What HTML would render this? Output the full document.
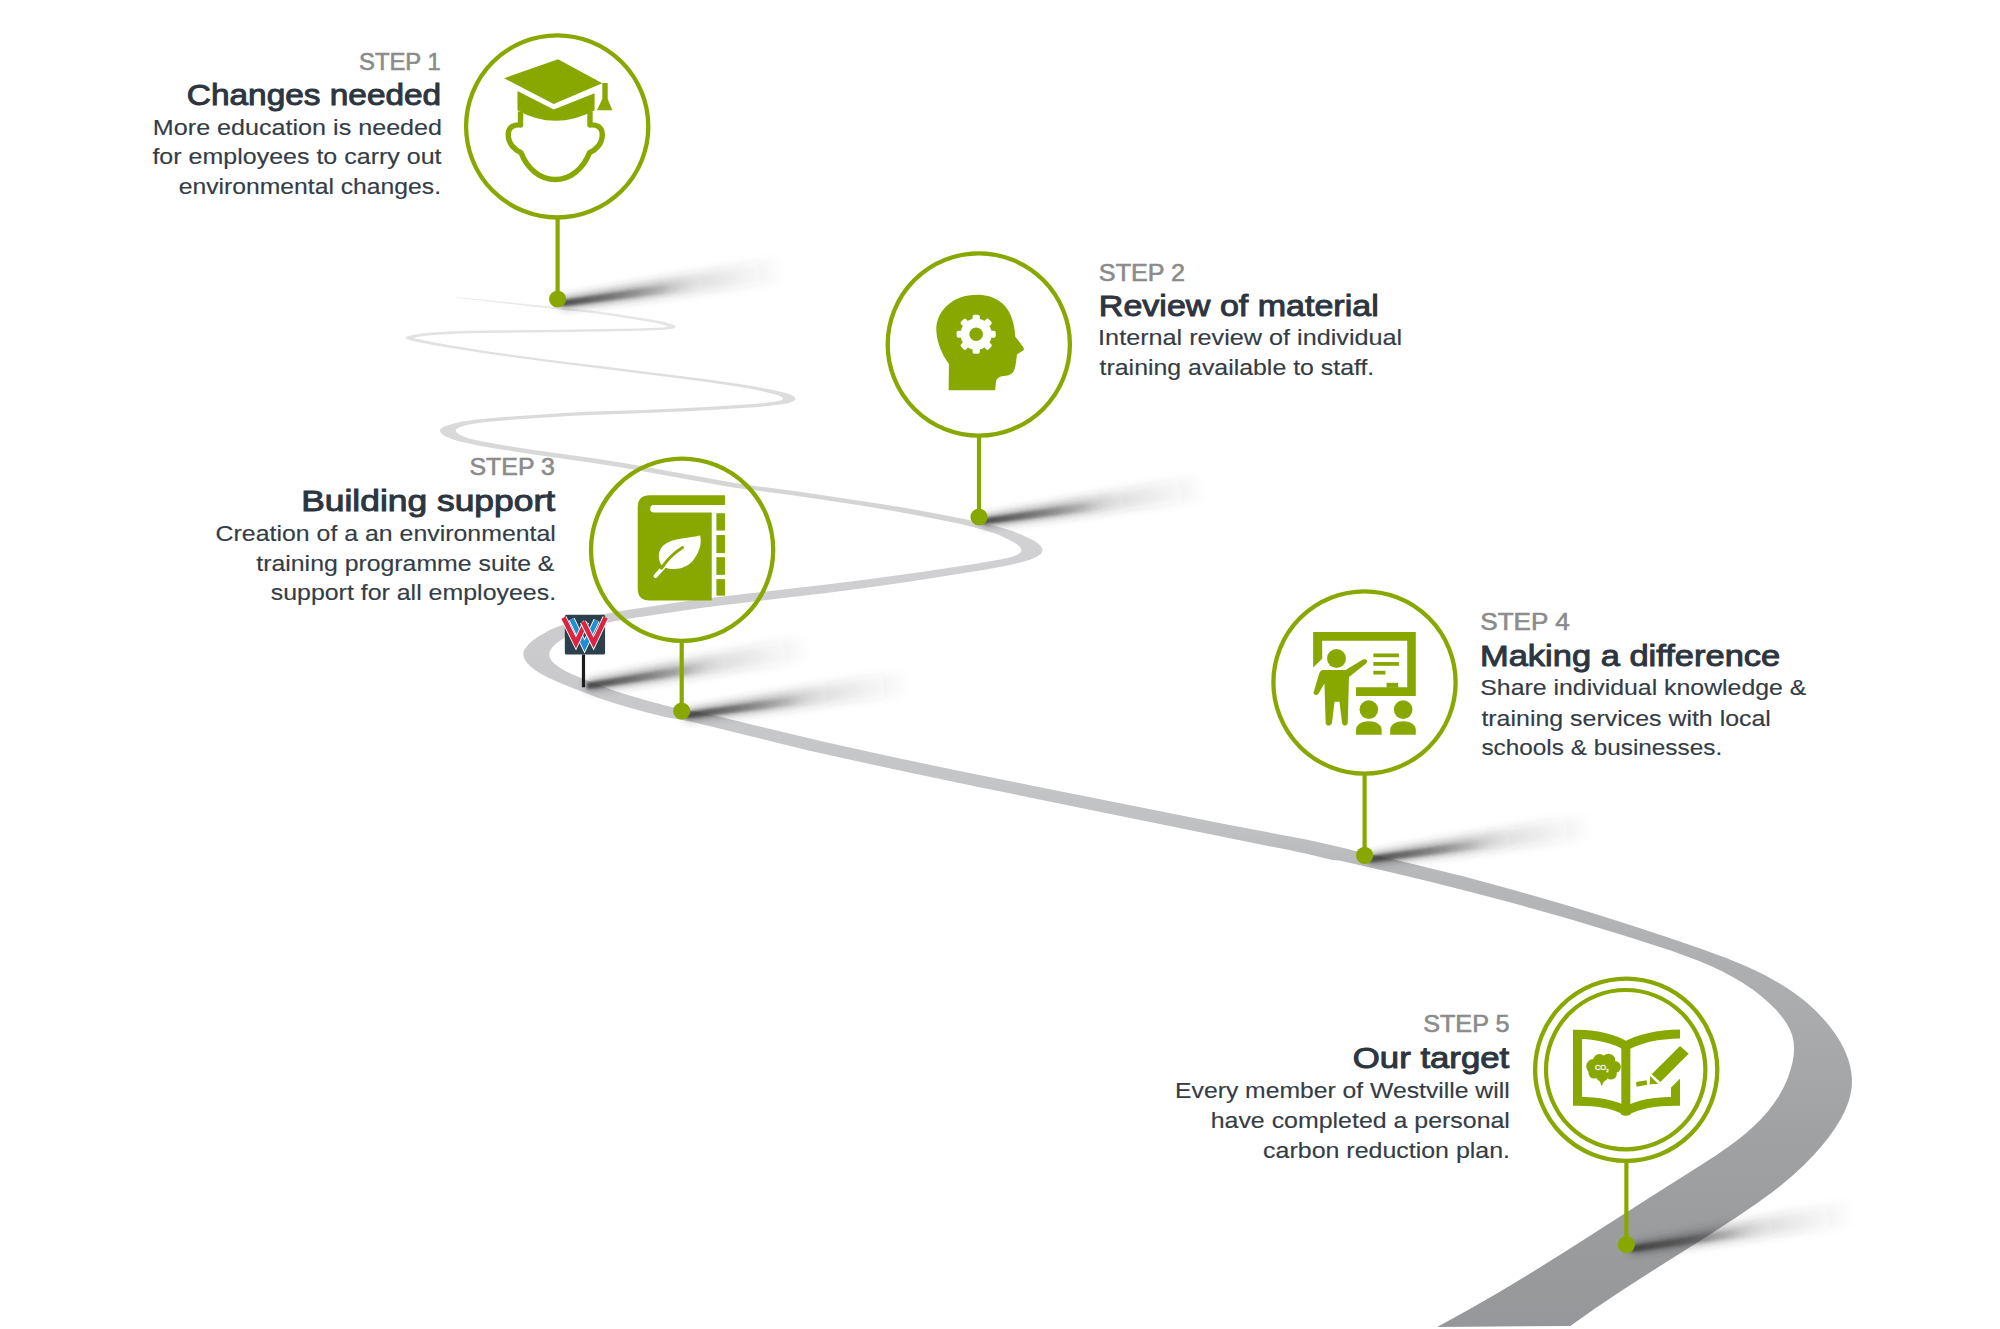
<!DOCTYPE html>
<html><head><meta charset="utf-8"><style>
html,body{margin:0;padding:0;background:#fff;}
body{width:2000px;height:1329px;overflow:hidden;}
svg{display:block;font-family:"Liberation Sans",sans-serif;}
</style></head><body>
<svg width="2000" height="1329" viewBox="0 0 2000 1329">
<defs>
<linearGradient id="roadg" gradientUnits="userSpaceOnUse" x1="0" y1="297" x2="0" y2="1327">
<stop offset="0.0000" stop-color="#ebebeb"/>
<stop offset="0.0320" stop-color="#e3e3e3"/>
<stop offset="0.1194" stop-color="#dadada"/>
<stop offset="0.2456" stop-color="#d1d1d3"/>
<stop offset="0.3427" stop-color="#cbcbcd"/>
<stop offset="0.4689" stop-color="#c4c5c7"/>
<stop offset="0.5175" stop-color="#bfc0c2"/>
<stop offset="0.5612" stop-color="#b7b8ba"/>
<stop offset="0.6437" stop-color="#aeafb1"/>
<stop offset="0.7505" stop-color="#a6a7a9"/>
<stop offset="0.8184" stop-color="#a0a1a3"/>
<stop offset="0.9641" stop-color="#98999b"/>
<stop offset="1.0000" stop-color="#96979a"/>
</linearGradient>
<filter id="blur1" x="-20%" y="-80%" width="140%" height="260%"><feGaussianBlur stdDeviation="1.6"/></filter><filter id="blur2" x="-20%" y="-80%" width="140%" height="260%"><feGaussianBlur stdDeviation="4.5"/></filter>
</defs>
<rect width="2000" height="1329" fill="#fff"/>
<path d="M432.5,332.4 420.7,333.6 412.3,334.9 407.0,336.4 406.0,337.2 405.9,337.9 406.5,338.7 407.9,339.6 412.4,341.0 438.5,345.9 482.9,353.1 545.1,361.5 702.0,381.3 738.9,386.8 756.7,390.1 772.0,393.5 776.4,394.8 779.9,396.1 782.2,397.4 783.1,398.5 782.9,399.1 782.1,399.8 780.4,400.6 778.5,401.1 761.3,403.3 753.6,404.0 706.3,406.9 676.2,408.5 642.5,409.9 586.3,411.8 564.0,412.9 511.4,416.4 489.4,418.2 477.1,419.4 463.9,421.3 454.6,423.2 445.6,426.0 442.7,427.3 441.0,428.6 440.2,429.6 440.0,431.0 440.4,432.1 441.3,433.3 443.1,434.9 445.2,436.2 451.0,438.8 457.9,441.0 464.4,442.6 480.7,445.9 495.3,448.5 530.4,454.1 588.2,462.3 620.4,467.2 724.2,486.0 740.2,488.4 789.1,494.8 861.2,505.6 887.9,509.9 919.2,515.7 945.9,521.0 962.9,524.6 977.5,528.2 990.5,531.9 995.7,533.7 1000.7,535.8 1014.3,542.5 1016.2,543.7 1018.9,545.8 1020.7,547.9 1021.4,549.2 1021.4,550.5 1021.3,551.2 1020.0,553.0 1017.5,554.6 1012.8,556.4 1007.6,557.9 1000.3,559.5 974.3,564.0 921.5,571.9 864.7,579.7 828.3,584.2 707.3,598.3 690.3,600.5 619.2,611.3 597.8,615.3 581.6,619.2 569.3,622.8 559.7,626.0 552.5,628.8 546.2,631.9 538.9,636.2 532.4,640.8 528.1,644.8 524.8,649.0 523.8,650.9 523.4,652.4 523.4,655.5 524.5,659.0 527.1,663.0 530.8,666.8 535.2,670.2 539.9,673.3 546.9,677.1 555.5,681.1 567.4,686.1 598.5,697.9 613.1,702.7 628.8,707.4 645.1,712.0 660.0,715.8 669.0,717.8 683.8,720.2 693.8,722.2 808.5,750.4 851.6,760.1 904.5,771.6 976.0,786.5 1199.1,832.1 1287.9,849.8 1306.4,853.8 1332.5,859.9 1335.4,860.3 1339.3,860.6 1386.4,871.3 1429.2,881.6 1471.7,892.3 1510.8,902.6 1566.1,918.1 1621.5,934.8 1670.7,950.6 1687.0,956.4 1699.8,961.3 1712.4,966.7 1721.6,971.1 1733.6,977.4 1742.2,982.6 1753.4,990.1 1761.4,996.3 1769.0,1002.9 1776.2,1010.1 1782.8,1017.9 1786.7,1023.4 1789.8,1029.2 1792.2,1035.3 1793.6,1041.7 1794.1,1048.3 1793.7,1055.1 1792.6,1061.9 1790.9,1068.6 1787.7,1078.2 1783.7,1087.3 1778.9,1096.0 1773.5,1104.1 1767.4,1111.9 1760.8,1119.2 1753.7,1126.3 1746.2,1133.0 1735.6,1141.5 1727.3,1147.6 1715.8,1155.5 1701.1,1165.0 1651.3,1196.4 1566.5,1250.8 1529.6,1273.8 1497.7,1293.0 1468.0,1310.1 1437.2,1327.0 1570.3,1326.0 1595.0,1308.5 1623.0,1289.7 1648.7,1273.2 1708.8,1235.2 1737.2,1216.8 1756.6,1203.6 1772.9,1191.7 1783.5,1183.3 1793.8,1174.5 1803.8,1165.2 1813.5,1155.3 1822.7,1144.8 1829.3,1136.4 1835.4,1127.8 1840.9,1118.8 1844.0,1112.8 1846.7,1106.6 1848.9,1100.4 1850.5,1094.2 1851.6,1087.9 1851.9,1084.7 1851.9,1078.4 1851.3,1072.1 1850.1,1065.9 1848.3,1059.6 1846.0,1053.5 1843.3,1047.5 1840.1,1041.6 1836.5,1035.8 1832.7,1030.2 1828.5,1024.7 1819.4,1014.5 1814.6,1009.7 1807.2,1003.0 1802.0,998.7 1793.9,992.7 1788.4,988.9 1779.8,983.5 1765.1,975.3 1756.0,970.8 1746.6,966.5 1727.6,958.6 1701.7,949.1 1665.9,936.8 1630.2,925.1 1594.7,913.8 1562.4,904.0 1526.9,893.7 1494.5,884.7 1462.0,876.1 1429.4,867.9 1393.2,859.3 1351.1,849.9 1348.9,849.2 1330.7,845.0 1307.5,839.8 1227.0,824.4 1035.0,786.2 953.4,769.7 899.8,758.5 856.5,749.1 823.8,741.8 711.7,714.8 698.3,711.9 680.9,709.0 674.3,707.7 662.5,704.8 645.1,700.0 626.4,694.5 614.4,690.7 583.5,679.1 570.4,673.5 563.1,669.8 558.1,666.6 554.2,663.6 551.8,661.0 550.2,658.4 549.3,655.5 549.3,653.1 550.2,650.5 552.6,647.1 555.4,644.2 559.5,640.9 564.6,637.7 570.6,634.5 575.8,632.2 581.7,630.1 592.6,626.6 601.4,624.2 614.0,621.3 633.3,617.9 697.1,608.6 714.2,606.3 830.5,592.4 864.9,588.0 910.5,581.4 986.2,569.5 1003.8,566.2 1014.7,563.9 1023.3,561.8 1030.7,559.4 1036.0,557.1 1037.9,556.1 1040.0,554.6 1041.2,553.4 1042.1,551.7 1042.5,550.0 1042.2,548.8 1041.3,546.9 1039.3,544.6 1037.0,542.8 1033.7,540.6 1020.6,534.2 1011.6,530.8 999.0,527.0 985.0,523.5 964.2,519.1 938.4,514.0 907.4,508.2 879.4,503.7 801.3,492.0 750.7,485.4 736.1,483.2 629.6,464.0 595.1,458.5 537.4,450.6 501.9,445.0 475.5,440.0 470.1,438.7 465.7,437.3 460.3,435.1 457.2,433.1 456.3,432.1 455.8,431.2 455.9,430.1 456.3,429.2 457.5,428.4 459.6,427.3 466.6,425.1 475.0,423.5 485.8,422.0 518.0,419.2 569.1,415.9 591.5,414.9 643.7,413.1 681.2,411.5 711.1,409.9 759.2,406.9 780.5,404.5 787.4,403.3 791.0,402.2 793.6,401.0 795.1,399.7 795.5,398.4 794.6,396.9 792.4,395.5 789.1,394.1 784.1,392.6 769.2,389.2 746.0,385.0 708.0,379.5 602.4,366.2 550.4,359.9 492.0,352.0 476.1,349.6 441.2,343.8 417.7,339.1 415.2,338.4 413.9,337.7 420.1,336.5 430.2,335.2 459.3,333.5 486.7,332.9 573.4,331.9 640.4,330.7 665.8,329.7 672.3,328.8 674.0,328.2 675.1,327.5 675.5,326.6 675.1,325.8 670.6,323.7 664.4,322.0 652.2,319.7 616.9,314.1 597.9,311.4 500.8,301.4 456.9,297.1 456.1,297.2 455.8,297.4 456.5,297.7 524.7,305.8 549.0,308.5 584.3,312.1 599.9,314.0 620.9,317.2 653.8,322.6 662.2,324.5 665.1,325.5 667.5,326.7 666.4,327.0 662.4,327.5 635.9,328.4 558.2,329.8 469.9,330.8 451.9,331.3Z" fill="url(#roadg)"/>
<linearGradient id="sa0" gradientUnits="userSpaceOnUse" x1="561.0" y1="303.5" x2="784.1" y2="274.5"><stop offset="0" stop-color="#3a3a3a" stop-opacity="0.62"/><stop offset="0.3" stop-color="#3a3a3a" stop-opacity="0.42"/><stop offset="0.62" stop-color="#3a3a3a" stop-opacity="0.15"/><stop offset="1" stop-color="#3a3a3a" stop-opacity="0"/></linearGradient><polygon points="561.6,308.0 560.4,299.0 781.8,256.5 785.1,282.3" fill="url(#sa0)" filter="url(#blur2)"/>
<linearGradient id="sb0" gradientUnits="userSpaceOnUse" x1="561.0" y1="303.5" x2="680.1" y2="289.1"><stop offset="0" stop-color="#3a3a3a" stop-opacity="0.85"/><stop offset="0.4" stop-color="#3a3a3a" stop-opacity="0.5"/><stop offset="1" stop-color="#3a3a3a" stop-opacity="0"/></linearGradient><polygon points="561.4,306.5 560.6,300.5 679.4,282.8 680.5,291.8" fill="url(#sb0)" filter="url(#blur1)"/>
<linearGradient id="sa1" gradientUnits="userSpaceOnUse" x1="982.5" y1="521.5" x2="1205.6" y2="492.5"><stop offset="0" stop-color="#3a3a3a" stop-opacity="0.62"/><stop offset="0.3" stop-color="#3a3a3a" stop-opacity="0.42"/><stop offset="0.62" stop-color="#3a3a3a" stop-opacity="0.15"/><stop offset="1" stop-color="#3a3a3a" stop-opacity="0"/></linearGradient><polygon points="983.1,526.0 981.9,517.0 1203.3,474.5 1206.6,500.3" fill="url(#sa1)" filter="url(#blur2)"/>
<linearGradient id="sb1" gradientUnits="userSpaceOnUse" x1="982.5" y1="521.5" x2="1101.6" y2="507.1"><stop offset="0" stop-color="#3a3a3a" stop-opacity="0.85"/><stop offset="0.4" stop-color="#3a3a3a" stop-opacity="0.5"/><stop offset="1" stop-color="#3a3a3a" stop-opacity="0"/></linearGradient><polygon points="982.9,524.5 982.1,518.5 1100.9,500.8 1102.0,509.8" fill="url(#sb1)" filter="url(#blur1)"/>
<linearGradient id="sa2" gradientUnits="userSpaceOnUse" x1="587.0" y1="686.0" x2="809.5" y2="652.7"><stop offset="0" stop-color="#3a3a3a" stop-opacity="0.62"/><stop offset="0.3" stop-color="#3a3a3a" stop-opacity="0.42"/><stop offset="0.62" stop-color="#3a3a3a" stop-opacity="0.15"/><stop offset="1" stop-color="#3a3a3a" stop-opacity="0"/></linearGradient><polygon points="587.7,690.5 586.3,681.5 806.8,634.7 810.7,660.5" fill="url(#sa2)" filter="url(#blur2)"/>
<linearGradient id="sb2" gradientUnits="userSpaceOnUse" x1="587.0" y1="686.0" x2="705.8" y2="669.3"><stop offset="0" stop-color="#3a3a3a" stop-opacity="0.85"/><stop offset="0.4" stop-color="#3a3a3a" stop-opacity="0.5"/><stop offset="1" stop-color="#3a3a3a" stop-opacity="0"/></linearGradient><polygon points="587.4,689.0 586.6,683.0 705.0,663.1 706.2,672.0" fill="url(#sb2)" filter="url(#blur1)"/>
<linearGradient id="sa3" gradientUnits="userSpaceOnUse" x1="685.5" y1="715.5" x2="908.7" y2="687.3"><stop offset="0" stop-color="#3a3a3a" stop-opacity="0.62"/><stop offset="0.3" stop-color="#3a3a3a" stop-opacity="0.42"/><stop offset="0.62" stop-color="#3a3a3a" stop-opacity="0.15"/><stop offset="1" stop-color="#3a3a3a" stop-opacity="0"/></linearGradient><polygon points="686.1,720.0 684.9,711.0 906.4,669.2 909.7,695.0" fill="url(#sa3)" filter="url(#blur2)"/>
<linearGradient id="sb3" gradientUnits="userSpaceOnUse" x1="685.5" y1="715.5" x2="804.7" y2="701.5"><stop offset="0" stop-color="#3a3a3a" stop-opacity="0.85"/><stop offset="0.4" stop-color="#3a3a3a" stop-opacity="0.5"/><stop offset="1" stop-color="#3a3a3a" stop-opacity="0"/></linearGradient><polygon points="685.9,718.5 685.1,712.5 803.9,695.2 805.0,704.2" fill="url(#sb3)" filter="url(#blur1)"/>
<linearGradient id="sa4" gradientUnits="userSpaceOnUse" x1="1368.5" y1="859.5" x2="1591.7" y2="830.9"><stop offset="0" stop-color="#3a3a3a" stop-opacity="0.62"/><stop offset="0.3" stop-color="#3a3a3a" stop-opacity="0.42"/><stop offset="0.62" stop-color="#3a3a3a" stop-opacity="0.15"/><stop offset="1" stop-color="#3a3a3a" stop-opacity="0"/></linearGradient><polygon points="1369.1,864.0 1367.9,855.0 1589.4,812.9 1592.7,838.6" fill="url(#sa4)" filter="url(#blur2)"/>
<linearGradient id="sb4" gradientUnits="userSpaceOnUse" x1="1368.5" y1="859.5" x2="1487.7" y2="845.3"><stop offset="0" stop-color="#3a3a3a" stop-opacity="0.85"/><stop offset="0.4" stop-color="#3a3a3a" stop-opacity="0.5"/><stop offset="1" stop-color="#3a3a3a" stop-opacity="0"/></linearGradient><polygon points="1368.9,862.5 1368.1,856.5 1486.9,839.0 1488.0,848.0" fill="url(#sb4)" filter="url(#blur1)"/>
<linearGradient id="sa5" gradientUnits="userSpaceOnUse" x1="1630.5" y1="1249.0" x2="1853.3" y2="1217.7"><stop offset="0" stop-color="#3a3a3a" stop-opacity="0.62"/><stop offset="0.3" stop-color="#3a3a3a" stop-opacity="0.42"/><stop offset="0.62" stop-color="#3a3a3a" stop-opacity="0.15"/><stop offset="1" stop-color="#3a3a3a" stop-opacity="0"/></linearGradient><polygon points="1631.1,1253.5 1629.9,1244.5 1850.8,1199.7 1854.4,1225.4" fill="url(#sa5)" filter="url(#blur2)"/>
<linearGradient id="sb5" gradientUnits="userSpaceOnUse" x1="1630.5" y1="1249.0" x2="1749.5" y2="1233.3"><stop offset="0" stop-color="#3a3a3a" stop-opacity="0.85"/><stop offset="0.4" stop-color="#3a3a3a" stop-opacity="0.5"/><stop offset="1" stop-color="#3a3a3a" stop-opacity="0"/></linearGradient><polygon points="1630.9,1252.0 1630.1,1246.0 1748.7,1227.1 1749.8,1236.0" fill="url(#sb5)" filter="url(#blur1)"/>
<g transform="translate(540,600) scale(0.07524)">
<rect x="330" y="195" width="535" height="530" rx="22" fill="#2b3f4d"/>
<rect x="557" y="725" width="42" height="435" fill="#1c1c1c"/>
<g fill="none" stroke-linejoin="miter" stroke-miterlimit="3" transform="translate(0,-28)">
<path d="M420,282 L592,640 L752,300" stroke="#fff" stroke-width="86"/>
<path d="M420,282 L592,640 L752,300" stroke="#1d8fd2" stroke-width="62"/>
<path d="M312,262 L478,600 L612,318" stroke="#fff" stroke-width="86"/>
<path d="M312,262 L478,600 L612,318" stroke="#da2441" stroke-width="62"/>
<path d="M572,318 L712,600 L873,262" stroke="#fff" stroke-width="86"/>
<path d="M572,318 L712,600 L873,262" stroke="#da2441" stroke-width="62"/>
</g>
</g>
<line x1="557.6" y1="217.4" x2="557.6" y2="299.0" stroke="#88a800" stroke-width="4.2"/>
<circle cx="557.6" cy="299.0" r="8.6" fill="#88a800"/>
<line x1="979.0" y1="435.5" x2="979.0" y2="517.0" stroke="#88a800" stroke-width="4.2"/>
<circle cx="979.0" cy="517.0" r="8.6" fill="#88a800"/>
<line x1="681.7" y1="640.8" x2="681.7" y2="711.0" stroke="#88a800" stroke-width="4.2"/>
<circle cx="681.7" cy="711.0" r="8.6" fill="#88a800"/>
<line x1="1364.6" y1="773.5" x2="1364.6" y2="855.3" stroke="#88a800" stroke-width="4.2"/>
<circle cx="1364.6" cy="855.3" r="8.6" fill="#88a800"/>
<line x1="1626.4" y1="1160.7" x2="1626.4" y2="1244.6" stroke="#88a800" stroke-width="4.2"/>
<circle cx="1626.4" cy="1244.6" r="8.6" fill="#88a800"/>
<circle cx="557.2" cy="126.4" r="91.1" fill="none" stroke="#88a800" stroke-width="4.3"/>
<circle cx="978.8" cy="344.5" r="91.1" fill="none" stroke="#88a800" stroke-width="4.3"/>
<circle cx="682.1" cy="549.8" r="91.1" fill="none" stroke="#88a800" stroke-width="4.3"/>
<circle cx="1364.5" cy="682.5" r="91.1" fill="none" stroke="#88a800" stroke-width="4.3"/>
<circle cx="1626.2" cy="1069.7" r="91.1" fill="none" stroke="#88a800" stroke-width="4.3"/>
<circle cx="1625.7" cy="1069.7" r="79.7" fill="none" stroke="#88a800" stroke-width="4.2"/>
<g transform="translate(455,25) scale(0.154251)" fill="#88a800">
<path d="M318,345 L668,222 L955,378 L640,512 Z"/>
<path d="M405,428 L640,548 L905,443 L905,552 Q650,690 405,552 Z"/>
<path d="M955,376 L990,376 L990,480 L1020,553 L920,553 L955,480 Z"/>
<path d="M425,560 L425,648 C390,645 345,655 345,712 C345,772 390,812 428,828 C470,935 555,1002 650,1002 C745,1002 830,935 872,828 C910,812 955,772 955,712 C955,655 910,645 875,648 L875,560" fill="none" stroke="#88a800" stroke-width="35" stroke-linejoin="round"/>
</g>
<g transform="translate(880,245) scale(0.150489)">
<path fill="#88a800" d="M456,966 L458,790 C420,740 378,660 374,565 C372,440 480,330 647,330 C760,330 840,390 870,470 C890,520 895,560 899,609 L948,672 C962,690 957,702 940,707 L910,728 C906,760 905,795 892,830 C882,856 860,866 822,870 C792,873 776,886 771,905 L765,966 Z"/>
<g fill="#fff" transform="translate(639,593)"><circle r="104"/><rect x="-24" y="-130" width="48" height="50" rx="12" transform="rotate(0)"/><rect x="-24" y="-130" width="48" height="50" rx="12" transform="rotate(45)"/><rect x="-24" y="-130" width="48" height="50" rx="12" transform="rotate(90)"/><rect x="-24" y="-130" width="48" height="50" rx="12" transform="rotate(135)"/><rect x="-24" y="-130" width="48" height="50" rx="12" transform="rotate(180)"/><rect x="-24" y="-130" width="48" height="50" rx="12" transform="rotate(225)"/><rect x="-24" y="-130" width="48" height="50" rx="12" transform="rotate(270)"/><rect x="-24" y="-130" width="48" height="50" rx="12" transform="rotate(315)"/></g>
<circle cx="639" cy="593" r="45" fill="#88a800"/>
</g>
<g transform="translate(582,450) scale(0.150489)" fill="#88a800">
<path d="M450,300 L950,300 L950,365 L478,365 A25,25 0 0 0 478,415 L862,415 L862,1000 L450,1000 Q370,1000 370,920 L370,380 Q370,300 450,300 Z"/>
<rect x="893" y="420" width="57" height="115"/>
<rect x="893" y="565" width="57" height="120"/>
<rect x="893" y="712" width="57" height="118"/>
<rect x="893" y="858" width="57" height="110"/>
<path fill="#fff" d="M785,568 C700,590 600,580 540,635 C500,672 505,730 528,765 L552,780 C610,805 700,790 745,725 C790,660 795,610 785,568 Z"/>
<path d="M488,838 L548,772" fill="none" stroke="#fff" stroke-width="26" stroke-linecap="round"/>
<path d="M528,785 Q585,700 668,648" fill="none" stroke="#88a800" stroke-width="20" stroke-linecap="round"/>
</g>
<g transform="translate(1265,585) scale(0.150489)" fill="#88a800">
<path d="M320,313 L1002,313 L1002,737 L605,737 L605,680 L945,680 L945,370 L380,370 L380,490 L320,548 Z"/>
<rect x="808" y="650" width="77" height="32"/>
<rect x="720" y="455" width="170" height="25"/>
<rect x="720" y="512" width="170" height="25"/>
<rect x="720" y="570" width="80" height="25"/>
<circle cx="475" cy="488" r="63"/>
<path d="M385,565 L535,565 L648,497 C668,486 690,505 672,522 L558,612 L550,915 C548,940 515,940 512,915 L495,775 L462,775 L445,915 C440,940 405,940 403,915 L395,655 L355,722 C343,740 315,728 325,708 L358,595 C364,575 372,565 385,565 Z"/>
<circle cx="690" cy="828" r="62"/>
<circle cx="918" cy="828" r="62"/>
<path d="M605,995 L605,962 C605,925 645,905 690,905 C735,905 775,925 775,962 L775,995 Z"/>
<path d="M832,995 L832,962 C832,925 872,905 918,905 C963,905 1002,925 1002,962 L1002,995 Z"/>
</g>
<g transform="translate(1525,970) scale(0.150489)">
<g fill="none" stroke="#88a800" stroke-width="60" stroke-linejoin="miter">
<path d="M672,938 C590,888 470,872 349,872 L349,427 C470,430 590,455 672,505"/>
<path d="M668,505 C760,455 890,427 1030,425"/>
<path d="M1000,722 L1000,872 C890,872 760,888 668,938"/>
<path d="M670,490 L670,962"/>
</g>
<path fill="#88a800" d="M640,930 Q670,952 700,930 L700,960 Q670,978 640,960 Z"/>
<path fill="#fff" d="M966,718 L1034,718 L966,786 Z"/>
<g fill="#88a800">
<circle cx="455" cy="640" r="48"/><circle cx="495" cy="600" r="42"/><circle cx="555" cy="600" r="44"/><circle cx="597" cy="645" r="40"/>
<circle cx="572" cy="690" r="38"/><circle cx="512" cy="700" r="42"/><circle cx="458" cy="685" r="36"/><circle cx="525" cy="648" r="62"/>
<path d="M488,715 L535,715 L510,772 Z"/>
</g>
<text x="510" y="667" font-size="50" fill="#fff" stroke="#fff" stroke-width="2" text-anchor="middle" font-family="Liberation Sans">CO<tspan font-size="28" dy="10">2</tspan></text>
<path fill="#88a800" d="M1030,505 L1088,557 L900,745 L842,693 Z"/>
<path fill="#88a800" d="M832,705 L885,757 L828,760 Z"/>
<path fill="#88a800" d="M738,745 L808,733 L812,762 L742,775 Z"/>
</g>
<text transform="translate(359.01,69.80) scale(0.9932,1)" font-size="24" fill="#8b8b8b" stroke="#8b8b8b" stroke-width="0.6">STEP 1</text>
<text transform="translate(186.85,104.80) scale(1.1518,1)" font-size="29" fill="#2d3540" stroke="#2d3540" stroke-width="0.95">Changes needed</text>
<text transform="translate(152.86,134.60) scale(1.1429,1)" font-size="22" fill="#343c46" stroke="#343c46" stroke-width="0.15">More education is needed</text>
<text transform="translate(152.40,164.30) scale(1.1372,1)" font-size="22" fill="#343c46" stroke="#343c46" stroke-width="0.15">for employees to carry out</text>
<text transform="translate(178.80,194.30) scale(1.1236,1)" font-size="22" fill="#343c46" stroke="#343c46" stroke-width="0.15">environmental changes.</text>
<text transform="translate(1098.85,280.60) scale(1.0485,1)" font-size="24" fill="#8b8b8b" stroke="#8b8b8b" stroke-width="0.6">STEP 2</text>
<text transform="translate(1098.85,315.80) scale(1.1740,1)" font-size="29" fill="#2d3540" stroke="#2d3540" stroke-width="0.95">Review of material</text>
<text transform="translate(1098.11,345.40) scale(1.1460,1)" font-size="22" fill="#343c46" stroke="#343c46" stroke-width="0.15">Internal review of individual</text>
<text transform="translate(1099.60,375.00) scale(1.1313,1)" font-size="22" fill="#343c46" stroke="#343c46" stroke-width="0.15">training available to staff.</text>
<text transform="translate(469.46,475.20) scale(1.0387,1)" font-size="24" fill="#8b8b8b" stroke="#8b8b8b" stroke-width="0.6">STEP 3</text>
<text transform="translate(301.16,511.20) scale(1.2209,1)" font-size="29" fill="#2d3540" stroke="#2d3540" stroke-width="0.95">Building support</text>
<text transform="translate(215.57,540.90) scale(1.1316,1)" font-size="22" fill="#343c46" stroke="#343c46" stroke-width="0.15">Creation of a an environmental</text>
<text transform="translate(256.30,570.60) scale(1.1295,1)" font-size="22" fill="#343c46" stroke="#343c46" stroke-width="0.15">training programme suite &amp;</text>
<text transform="translate(270.70,600.30) scale(1.1336,1)" font-size="22" fill="#343c46" stroke="#343c46" stroke-width="0.15">support for all employees.</text>
<text transform="translate(1480.31,630.40) scale(1.0866,1)" font-size="24" fill="#8b8b8b" stroke="#8b8b8b" stroke-width="0.6">STEP 4</text>
<text transform="translate(1479.92,666.25) scale(1.1891,1)" font-size="29" fill="#2d3540" stroke="#2d3540" stroke-width="0.95">Making a difference</text>
<text transform="translate(1480.27,695.10) scale(1.1304,1)" font-size="22" fill="#343c46" stroke="#343c46" stroke-width="0.15">Share individual knowledge &amp;</text>
<text transform="translate(1481.40,725.75) scale(1.1337,1)" font-size="22" fill="#343c46" stroke="#343c46" stroke-width="0.15">training services with local</text>
<text transform="translate(1481.40,755.20) scale(1.1069,1)" font-size="22" fill="#343c46" stroke="#343c46" stroke-width="0.15">schools &amp; businesses.</text>
<text transform="translate(1423.15,1032.40) scale(1.0510,1)" font-size="24" fill="#8b8b8b" stroke="#8b8b8b" stroke-width="0.6">STEP 5</text>
<text transform="translate(1352.80,1068.00) scale(1.1985,1)" font-size="29" fill="#2d3540" stroke="#2d3540" stroke-width="0.95">Our target</text>
<text transform="translate(1175.08,1097.70) scale(1.1237,1)" font-size="22" fill="#343c46" stroke="#343c46" stroke-width="0.15">Every member of Westville will</text>
<text transform="translate(1210.67,1128.30) scale(1.1331,1)" font-size="22" fill="#343c46" stroke="#343c46" stroke-width="0.15">have completed a personal</text>
<text transform="translate(1263.10,1158.00) scale(1.1353,1)" font-size="22" fill="#343c46" stroke="#343c46" stroke-width="0.15">carbon reduction plan.</text>
</svg>
</body></html>
